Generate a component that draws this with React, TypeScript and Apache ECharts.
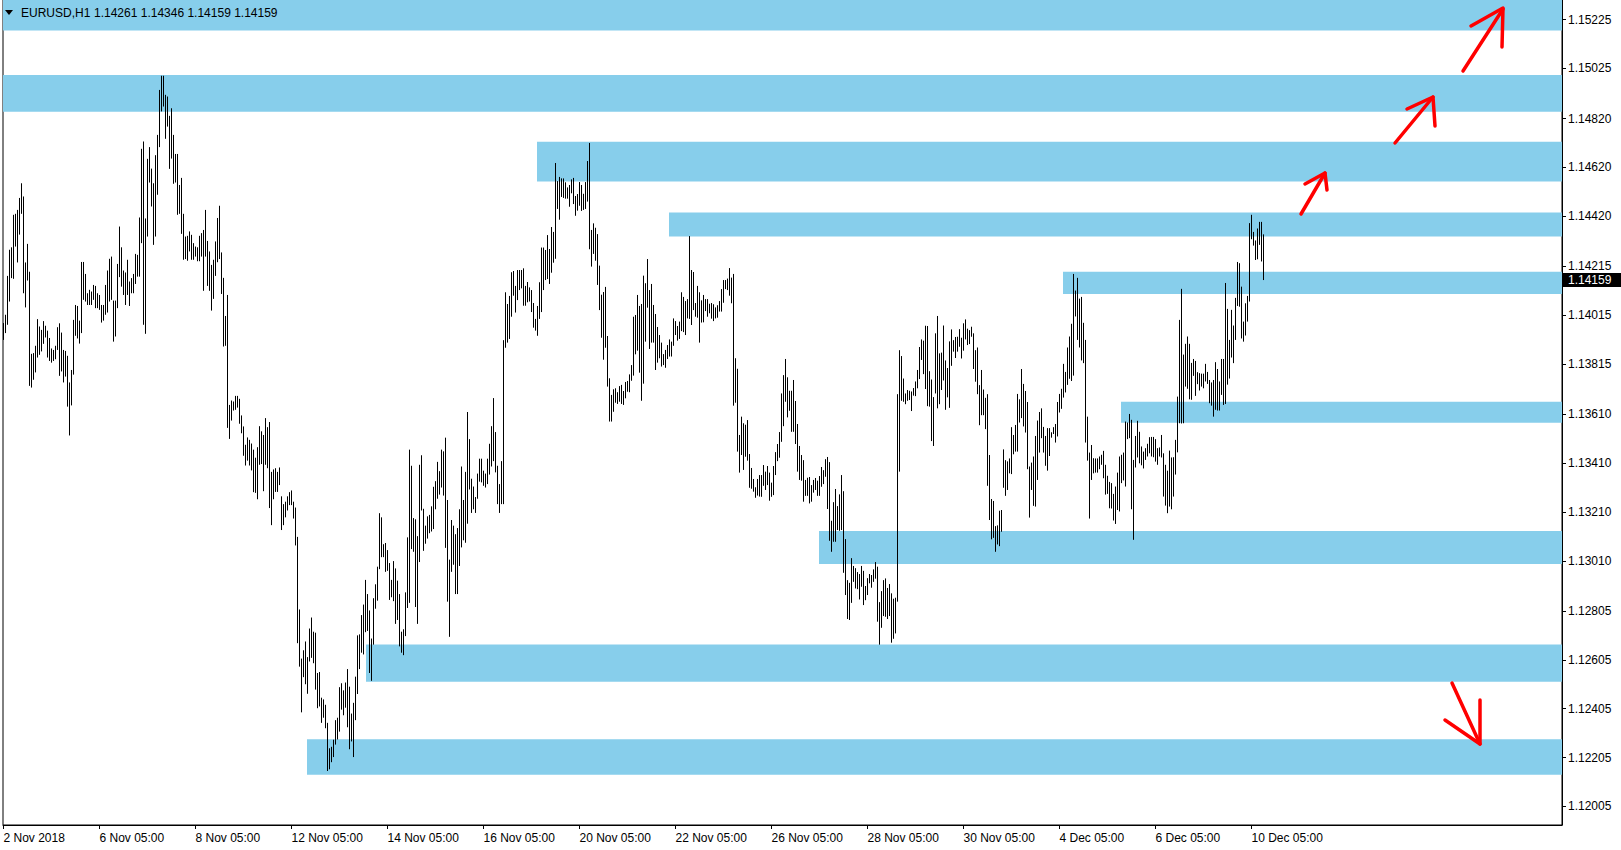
import React, { useEffect, useRef } from "react";
import * as echarts from "echarts";

// ---- Data: hourly bar highs / lows (EURUSD H1) ----
const HIGH = [
  // 2 Nov .. 7 Nov
  1.13983,1.14017,1.14176,1.14283,1.14293,1.14426,1.14430,1.14446,1.14495,1.14555,
  1.14501,1.14231,1.14307,1.14193,1.13857,1.13860,1.13890,1.13999,1.13969,1.13955,
  1.13991,1.13972,1.13952,1.13922,1.13879,1.13873,1.13890,1.13966,1.13982,1.13944,
  1.13873,1.13869,1.13849,1.13740,1.13791,1.13996,1.14057,1.14053,1.13993,1.14233,
  1.14233,1.14184,1.14105,1.14119,1.14112,1.14139,1.14135,1.14105,1.14098,1.14057,
  1.14057,1.14139,1.14198,1.14246,1.14255,1.14075,1.14075,1.14225,1.14378,1.14293,
  1.14198,1.14190,1.14242,1.14153,1.14167,1.14184,1.14266,1.14262,1.14415,1.14696,
  1.14726,1.14411,1.14655,1.14703,1.14615,1.14555,1.14670,1.14753,1.14937,1.14995,
  1.14995,1.14917,1.14910,1.14831,1.14862,1.14753,1.14675,1.14675,1.14548,1.14577,
  1.14430,1.14337,1.14340,1.14358,1.14344,1.14310,1.14296,1.14293,1.14340,1.14351,
  1.14364,1.14446,1.14319,1.14276,1.14221,1.14242,1.14317,1.14413,1.14463,1.14272,
  1.14168,1.14012,1.14098,1.13648,1.13666,1.13662,1.13685,1.13685,1.13673,1.13605,
  1.13560,1.13485,1.13515,1.13505,1.13490,
  // 9 Nov .. 15 Nov
  1.13465,1.13432,1.13475,1.13561,1.13540,1.13525,1.13594,1.13557,1.13578,1.13374,
  1.13384,1.13389,1.13374,1.13392,1.13274,1.13242,1.13252,1.13274,1.13291,1.13298,
  1.13252,1.13228,1.13108,1.12811,1.12610,1.12644,1.12680,1.12616,1.12733,1.12778,
  1.12720,1.12716,1.12551,1.12555,1.12450,1.12443,1.12421,1.12347,1.12243,1.12249,
  1.12278,1.12358,1.12368,1.12493,1.12509,1.12480,1.12512,1.12567,1.12495,1.12385,
  1.12429,1.12536,1.12705,1.12709,1.12788,1.12831,1.12932,1.12874,1.12807,1.12692,
  1.12857,1.12914,1.12986,1.13205,1.13188,1.13078,1.13083,1.13054,1.13001,1.12932,
  1.13009,1.12979,1.12929,1.12874,1.12720,1.12730,1.12881,1.13106,1.13465,1.13399,
  1.13185,1.13180,1.13111,1.13403,1.13442,1.13223,1.13154,1.13192,1.13198,1.13233,
  1.13313,1.13336,1.13415,1.13377,1.13465,1.13458,1.13514,1.13259,1.13015,1.13177,
  1.13154,1.13119,1.13144,1.13221,1.13396,1.13259,1.13374,1.13619,1.13508,1.13346,
  1.13314,1.13271,1.13367,1.13428,1.13428,1.13379,1.13367,1.13428,1.13489,1.13561,
  1.13676,1.13537,1.13399,1.13324,1.13418,1.13913,
  // 16 Nov .. 23 Nov
  1.14109,1.14061,1.14094,1.14191,1.14196,1.14135,1.14200,1.14200,1.14200,1.14207,
  1.14135,1.14151,1.14129,1.14118,1.14065,1.14000,1.14053,1.14150,1.14292,1.14292,
  1.14282,1.14343,1.14286,1.14376,1.14356,1.14638,1.14564,1.14581,1.14575,1.14575,
  1.14559,1.14538,1.14548,1.14571,1.14577,1.14503,1.14511,1.14560,1.14548,1.14512,
  1.14560,1.14646,1.14720,1.14364,1.14391,1.14373,1.14347,1.14218,1.14099,1.14110,
  1.14131,1.13930,1.13757,1.13689,1.13712,1.13716,1.13700,1.13725,1.13730,1.13705,
  1.13742,1.13746,1.13773,1.13811,1.14009,1.14016,1.14098,1.14053,1.14061,1.14177,
  1.14146,1.14245,1.14118,1.14143,1.14057,1.14020,1.13967,1.13934,1.13903,1.13856,
  1.13873,1.13893,1.13916,1.13907,1.14002,1.13991,1.13971,1.13989,1.14109,1.14090,
  1.14073,1.14081,1.14339,1.14200,1.14192,1.14065,1.14135,1.14109,1.14076,1.14098,
  1.14081,1.14081,1.14062,1.14065,1.14060,1.14047,1.14056,1.14073,1.14122,1.14159,
  1.14159,1.14165,1.14208,1.14169,1.14184,1.13839,1.13796,1.13525,1.13600,1.13573,
  1.13567,1.13586,1.13447,1.13390,1.13345,1.13311,1.13345,1.13361,
  // 26 Nov .. 3 Dec
  1.13361,1.13402,1.13375,1.13398,1.13371,1.13330,1.13398,1.13455,1.13488,1.13537,
  1.13695,1.13770,1.13836,1.13761,1.13706,1.13706,1.13750,1.13664,1.13570,1.13480,
  1.13443,1.13422,1.13341,1.13350,1.13353,1.13320,1.13341,1.13349,1.13338,1.13357,
  1.13394,1.13381,1.13426,1.13435,1.13414,1.13174,1.13250,1.13304,1.13234,1.13282,
  1.13361,1.13295,1.13099,1.12931,1.12920,1.13021,1.12989,1.12980,1.12964,1.12956,
  1.12989,1.12969,1.12907,1.12939,1.12956,1.12952,1.12975,1.13005,1.12986,1.12841,
  1.12886,1.12931,1.12938,1.12899,1.12915,1.12877,1.12855,1.12859,1.13692,1.13872,
  1.13848,1.13756,1.13695,1.13709,1.13706,1.13703,1.13717,1.13744,1.13791,1.13885,
  1.13916,1.13911,1.13972,1.13971,1.13786,1.13752,1.13680,1.13941,1.14012,1.13859,
  1.13862,1.13973,1.13830,1.13799,1.13908,1.13957,1.13913,1.13926,1.13927,1.13958,
  1.13923,1.13982,1.13998,1.13960,1.13954,1.13968,1.13941,1.13872,1.13883,1.13729,
  1.13791,1.13711,1.13677,1.13692,1.13443,1.13263,1.13255,1.13152,1.13155,1.13215,
  1.13218,1.13466,1.13422,1.13417,1.13429,1.13557,1.13525,
  // 3 Dec .. 10 Dec
  1.13566,1.13693,1.13671,1.13795,1.13734,1.13705,1.13660,1.13396,1.13412,1.13437,
  1.13521,1.13584,1.13619,1.13634,1.13558,1.13521,1.13553,1.13553,1.13536,1.13557,
  1.13570,1.13660,1.13693,1.13714,1.13816,1.13783,1.13883,1.13928,1.13980,1.14184,
  1.14116,1.14168,1.14083,1.14090,1.13984,1.13914,1.13600,1.13453,1.13484,1.13430,
  1.13429,1.13429,1.13437,1.13444,1.13460,1.13403,1.13358,1.13333,1.13328,1.13284,
  1.13314,1.13371,1.13437,1.13444,1.13453,1.13580,1.13576,1.13611,1.13587,1.13423,
  1.13521,1.13583,1.13538,1.13478,1.13457,1.13471,1.13489,1.13516,1.13517,1.13517,
  1.13508,1.13471,1.13474,1.13525,1.13450,1.13403,1.13379,1.13461,1.13433,1.13434,
  1.13505,1.13682,1.13996,1.14123,1.13854,1.13898,1.13928,1.13898,1.13820,1.13836,
  1.13828,1.13782,1.13778,1.13776,1.13776,1.13816,1.13783,1.13750,1.13740,1.13750,
  1.13823,1.13795,1.13744,1.13836,1.13836,1.14147,1.14041,1.13914,1.14037,1.13973,
  1.14086,1.14233,1.14228,1.14132,1.13989,1.14064,1.14094,1.14392,1.14426,1.14356,
  1.14321,1.14370,1.14397,1.14397,1.14346,
];

const LOW = [
  1.13914,1.13942,1.13976,1.14071,1.14167,1.14164,1.14296,1.14231,1.14345,1.14430,
  1.14105,1.14047,1.14157,1.13726,1.13719,1.13751,1.13781,1.13842,1.13853,1.13867,
  1.13898,1.13924,1.13842,1.13828,1.13821,1.13828,1.13835,1.13873,1.13767,1.13785,
  1.13740,1.13764,1.13641,1.13523,1.13646,1.13772,1.13931,1.13920,1.13899,1.13942,
  1.14078,1.14071,1.14057,1.14057,1.14057,1.14078,1.14044,1.14044,1.14037,1.13985,
  1.13993,1.14017,1.14026,1.14071,1.14078,1.13907,1.13928,1.14044,1.14171,1.14132,
  1.14098,1.14057,1.14098,1.14053,1.14105,1.14105,1.14143,1.14173,1.14173,1.14310,
  1.13976,1.13939,1.14337,1.14558,1.14460,1.14303,1.14337,1.14508,1.14703,1.14849,
  1.14869,1.14737,1.14787,1.14614,1.14656,1.14553,1.14558,1.14426,1.14430,1.14348,
  1.14242,1.14245,1.14238,1.14276,1.14242,1.14242,1.14255,1.14236,1.14236,1.14255,
  1.14115,1.14255,1.14135,1.14115,1.14034,1.14082,1.14176,1.14232,1.14245,1.14102,
  1.13887,1.13890,1.13554,1.13509,1.13584,1.13625,1.13628,1.13637,1.13571,1.13532,
  1.13440,1.13400,1.13420,1.13400,1.13380,
  1.13291,1.13288,1.13262,1.13403,1.13406,1.13295,1.13403,1.13389,1.13226,1.13156,
  1.13262,1.13292,1.13292,1.13320,1.13136,1.13156,1.13188,1.13216,1.13238,1.13238,
  1.13183,1.13073,1.12673,1.12577,1.12390,1.12534,1.12505,1.12466,1.12598,1.12613,
  1.12591,1.12483,1.12407,1.12414,1.12347,1.12368,1.12325,1.12150,1.12157,1.12186,
  1.12207,1.12258,1.12279,1.12311,1.12401,1.12378,1.12409,1.12329,1.12239,1.12271,
  1.12207,1.12358,1.12465,1.12567,1.12634,1.12627,1.12718,1.12723,1.12551,1.12519,
  1.12667,1.12814,1.12847,1.12976,1.13025,1.13025,1.12965,1.12969,1.12850,1.12861,
  1.12845,1.12752,1.12768,1.12660,1.12634,1.12624,1.12702,1.12817,1.12838,1.13058,
  1.13047,1.12821,1.12752,1.13005,1.13216,1.13051,1.13080,1.13101,1.13123,1.13130,
  1.13140,1.13221,1.13264,1.13281,1.13310,1.13277,1.13063,1.12843,1.12699,1.12965,
  1.12994,1.12874,1.12874,1.12989,1.13065,1.13094,1.13084,1.13162,1.13302,1.13206,
  1.13221,1.13206,1.13264,1.13334,1.13331,1.13317,1.13310,1.13324,1.13363,1.13396,
  1.13418,1.13372,1.13242,1.13206,1.13242,1.13242,
  1.13882,1.13903,1.13918,1.14009,1.14095,1.14026,1.14077,1.14118,1.14125,1.14054,
  1.14054,1.14068,1.14071,1.14028,1.13964,1.13952,1.13931,1.14000,1.14028,1.14118,
  1.14159,1.14163,1.14143,1.14189,1.14230,1.14246,1.14450,1.14406,1.14499,1.14495,
  1.14492,1.14492,1.14459,1.14514,1.14470,1.14422,1.14443,1.14463,1.14442,1.14446,
  1.14450,1.14480,1.14285,1.14214,1.14266,1.14238,1.14139,1.14036,1.13923,1.13833,
  1.13882,1.13723,1.13580,1.13580,1.13620,1.13657,1.13652,1.13661,1.13652,1.13648,
  1.13675,1.13702,1.13700,1.13747,1.13768,1.13855,1.13870,1.13780,1.13665,1.13735,
  1.13907,1.14046,1.13877,1.13903,1.13903,1.13791,1.13821,1.13839,1.13805,1.13811,
  1.13800,1.13836,1.13846,1.13846,1.13890,1.13934,1.13911,1.13918,1.13950,1.13946,
  1.13934,1.14002,1.14000,1.13975,1.14036,1.14009,1.14005,1.13903,1.13985,1.13986,
  1.14032,1.14009,1.14023,1.14001,1.13991,1.14002,1.14005,1.14030,1.14030,1.14066,
  1.14122,1.14118,1.14095,1.14064,1.13645,1.13657,1.13457,1.13371,1.13443,1.13382,
  1.13436,1.13420,1.13309,1.13305,1.13293,1.13268,1.13277,1.13273,
  1.13272,1.13317,1.13300,1.13320,1.13256,1.13272,1.13279,1.13361,1.13418,1.13432,
  1.13497,1.13561,1.13661,1.13597,1.13624,1.13538,1.13538,1.13488,1.13375,1.13341,
  1.13338,1.13252,1.13276,1.13276,1.13245,1.13252,1.13289,1.13300,1.13276,1.13276,
  1.13313,1.13324,1.13354,1.13222,1.13092,1.13047,1.13088,1.13088,1.13136,1.13133,
  1.13136,1.12961,1.12870,1.12772,1.12768,1.12838,1.12924,1.12897,1.12894,1.12852,
  1.12904,1.12829,1.12849,1.12870,1.12918,1.12900,1.12924,1.12937,1.12761,1.12667,
  1.12736,1.12784,1.12781,1.12772,1.12784,1.12675,1.12691,1.12713,1.12843,1.13375,
  1.13665,1.13661,1.13651,1.13665,1.13668,1.13623,1.13686,1.13684,1.13716,1.13754,
  1.13832,1.13774,1.13713,1.13643,1.13641,1.13500,1.13480,1.13695,1.13634,1.13651,
  1.13709,1.13748,1.13628,1.13679,1.13636,1.13808,1.13866,1.13840,1.13866,1.13886,
  1.13838,1.13870,1.13916,1.13893,1.13897,1.13927,1.13795,1.13743,1.13692,1.13565,
  1.13606,1.13606,1.13549,1.13317,1.13177,1.13098,1.13104,1.13047,1.13077,1.13070,
  1.13129,1.13309,1.13276,1.13300,1.13368,1.13365,1.13446,
  1.13457,1.13457,1.13576,1.13594,1.13560,1.13535,1.13385,1.13187,1.13300,1.13235,
  1.13232,1.13341,1.13453,1.13512,1.13453,1.13399,1.13379,1.13439,1.13514,1.13529,
  1.13494,1.13519,1.13617,1.13632,1.13678,1.13699,1.13730,1.13755,1.13746,1.13768,
  1.14010,1.13914,1.13883,1.13830,1.13819,1.13494,1.13420,1.13183,1.13341,1.13368,
  1.13371,1.13371,1.13385,1.13403,1.13348,1.13281,1.13284,1.13225,1.13224,1.13175,
  1.13161,1.13218,1.13212,1.13328,1.13339,1.13314,1.13508,1.13512,1.13221,1.13096,
  1.13392,1.13433,1.13409,1.13401,1.13388,1.13423,1.13437,1.13450,1.13437,1.13434,
  1.13416,1.13403,1.13437,1.13433,1.13273,1.13236,1.13205,1.13232,1.13221,1.13273,
  1.13363,1.13454,1.13573,1.13572,1.13573,1.13723,1.13714,1.13671,1.13669,1.13767,
  1.13685,1.13733,1.13707,1.13723,1.13716,1.13744,1.13734,1.13655,1.13645,1.13600,
  1.13628,1.13625,1.13625,1.13689,1.13648,1.13652,1.13731,1.13756,1.13842,1.13819,
  1.13914,1.14053,1.14050,1.13920,1.13907,1.13932,1.13989,1.14071,1.14326,1.14300,
  1.14241,1.14244,1.14303,1.14235,1.14159,
];

// ---- Axis labels ----
const X_LABELS = [
  "2 Nov 2018", "6 Nov 05:00", "8 Nov 05:00", "12 Nov 05:00", "14 Nov 05:00",
  "16 Nov 05:00", "20 Nov 05:00", "22 Nov 05:00", "26 Nov 05:00", "28 Nov 05:00",
  "30 Nov 05:00", "4 Dec 05:00", "6 Dec 05:00", "10 Dec 05:00",
];
const X_LABEL_STEP = 48; // bars between time labels
const Y_TICKS = [
  1.12005, 1.12205, 1.12405, 1.12605, 1.12805, 1.1301, 1.1321, 1.1341, 1.1361,
  1.13815, 1.14015, 1.14215, 1.1442, 1.1462, 1.1482, 1.15025, 1.15225,
];
const Y_MIN = 1.11929;
const Y_MAX = 1.15305;
const X_MIN = -0.25;
const X_MAX = 779.25;

// ---- Support / resistance zones (start bar, upper price, lower price) ----
const ZONE_START = [-0.25, -0.25, 266.75, 332.75, 529.75, 558.75, 407.75, 181.25, 151.75];
const ZONE_HIGH = [1.15305, 1.14998, 1.14725, 1.14435, 1.14193, 1.13661, 1.13132, 1.12668, 1.1228];
const ZONE_LOW = [1.1518, 1.14848, 1.14562, 1.14337, 1.14102, 1.13575, 1.12997, 1.12515, 1.12135];

// ---- Header ----
const SYMBOL = "EURUSD,H1";
const OHLC = [1.14261, 1.14346, 1.14159, 1.14159];
const LAST_PRICE = 1.14159;

const FONT = "'Liberation Sans', Arial, sans-serif";

const ARROWS: number[][][] = [
  [[1301, 214], [1325, 173]],
  [[1305, 184], [1325, 173], [1327, 190]],
  [[1395, 143], [1433, 97]],
  [[1407, 109], [1433, 97], [1435, 126]],
  [[1463, 71], [1503, 9]],
  [[1471, 26], [1503, 8], [1502, 47]],
  [[1452, 683], [1480, 744]],
  [[1445, 720], [1480, 744], [1480, 700]],
];

export default function App() {
  const ref = useRef<HTMLDivElement>(null);

  useEffect(() => {
    document.body.style.margin = "0";
    const chart = echarts.init(ref.current as HTMLDivElement, null, { renderer: "svg" });
    const bars = HIGH.map((h, i) => [i, h, LOW[i]]);
    const xTicks = X_LABELS.map((_, k) => k * X_LABEL_STEP);

    const renderItem = (params: any, api: any) => {
      const x = api.value(0);
      const p1 = api.coord([x, api.value(1)]);
      const p2 = api.coord([x, api.value(2)]);
      return {
        type: "line",
        shape: { x1: p1[0], y1: p1[1], x2: p2[0], y2: p2[1] },
        style: { stroke: "#000", lineWidth: 1 },
      };
    };

    const baseGraphic: any[] = [
      {
        type: "polygon",
        id: "tri",
        z: 100,
        shape: { points: [[5, 10], [13, 10], [9, 15]] },
        style: { fill: "#000" },
      },
      {
        type: "text",
        id: "sym",
        z: 100,
        x: 21,
        y: 13,
        style: {
          text: SYMBOL,
          fill: "#000",
          fontSize: 12,
          fontFamily: FONT,
          verticalAlign: "middle",
          align: "left",
        },
      },
      {
        type: "text",
        id: "ohlc",
        z: 100,
        x: 94,
        y: 13,
        style: {
          text: OHLC.map((v) => v.toFixed(5)).join(" "),
          fill: "#000",
          fontSize: 12,
          fontFamily: FONT,
          verticalAlign: "middle",
          align: "left",
        },
      },
      ...ARROWS.map((pts, i) => ({
        type: "polyline",
        id: "arrow" + i,
        z: 100,
        shape: { points: pts },
        style: { stroke: "#ff0000", lineWidth: 3.5, fill: null, lineCap: "round", lineJoin: "round" },
      })),
    ];

    chart.setOption({
      animation: false,
      backgroundColor: "#fff",
      grid: {
        left: 3,
        top: 0,
        width: 1559,
        height: 825,
        show: true,
        borderColor: "#000",
        borderWidth: 1,
        backgroundColor: "transparent",
      },
      xAxis: {
        type: "value",
        min: X_MIN,
        max: X_MAX,
        splitLine: { show: false },
        axisLine: { show: true, onZero: false, lineStyle: { color: "#000", width: 1 } },
        axisTick: { show: true, length: 4, customValues: xTicks, lineStyle: { color: "#000" } },
        axisLabel: {
          customValues: xTicks,
          formatter: (v: number) => X_LABELS[Math.round(v / X_LABEL_STEP)] ?? "",
          align: "left",
          margin: 7,
          color: "#000",
          fontSize: 12,
          fontFamily: FONT,
        },
      },
      yAxis: {
        type: "value",
        position: "right",
        min: Y_MIN,
        max: Y_MAX,
        splitLine: { show: false },
        axisLine: { show: true, onZero: false, lineStyle: { color: "#000", width: 1 } },
        axisTick: { show: true, length: 4, customValues: Y_TICKS, lineStyle: { color: "#000" } },
        axisLabel: {
          customValues: Y_TICKS,
          formatter: (v: number) => v.toFixed(5),
          margin: 6,
          color: "#000",
          fontSize: 12,
          fontFamily: FONT,
        },
      },
      series: [
        {
          type: "line",
          data: [],
          z: 1,
          silent: true,
          markArea: {
            silent: true,
            itemStyle: { color: "#87CEEB", borderWidth: 0 },
            label: { show: false },
            data: ZONE_START.map((s, i) => [
              { coord: [s, ZONE_HIGH[i]] },
              { coord: [X_MAX, ZONE_LOW[i]] },
            ]),
          },
        },
        {
          type: "custom",
          z: 5,
          clip: true,
          silent: true,
          data: bars,
          encode: { x: 0, y: [1, 2] },
          renderItem,
        },
      ],
      graphic: baseGraphic,
    });

    // current-price tag on the price scale, placed through the axis scale
    const py = chart.convertToPixel({ yAxisIndex: 0 }, LAST_PRICE) as number;
    const px = chart.convertToPixel({ xAxisIndex: 0 }, X_MAX) as number;
    chart.setOption({
      graphic: [
        ...baseGraphic,
        {
          type: "rect",
          id: "lastBox",
          z: 110,
          shape: { x: px + 1, y: py - 7, width: 60, height: 14 },
          style: { fill: "#000" },
        },
        {
          type: "text",
          id: "lastTxt",
          z: 111,
          x: px + 6,
          y: py,
          style: {
            text: LAST_PRICE.toFixed(5),
            fill: "#fff",
            fontSize: 12,
            fontFamily: FONT,
            verticalAlign: "middle",
            align: "left",
          },
        },
      ],
    });

    return () => chart.dispose();
  }, []);

  return <div ref={ref} style={{ width: 1621, height: 850 }} />;
}
